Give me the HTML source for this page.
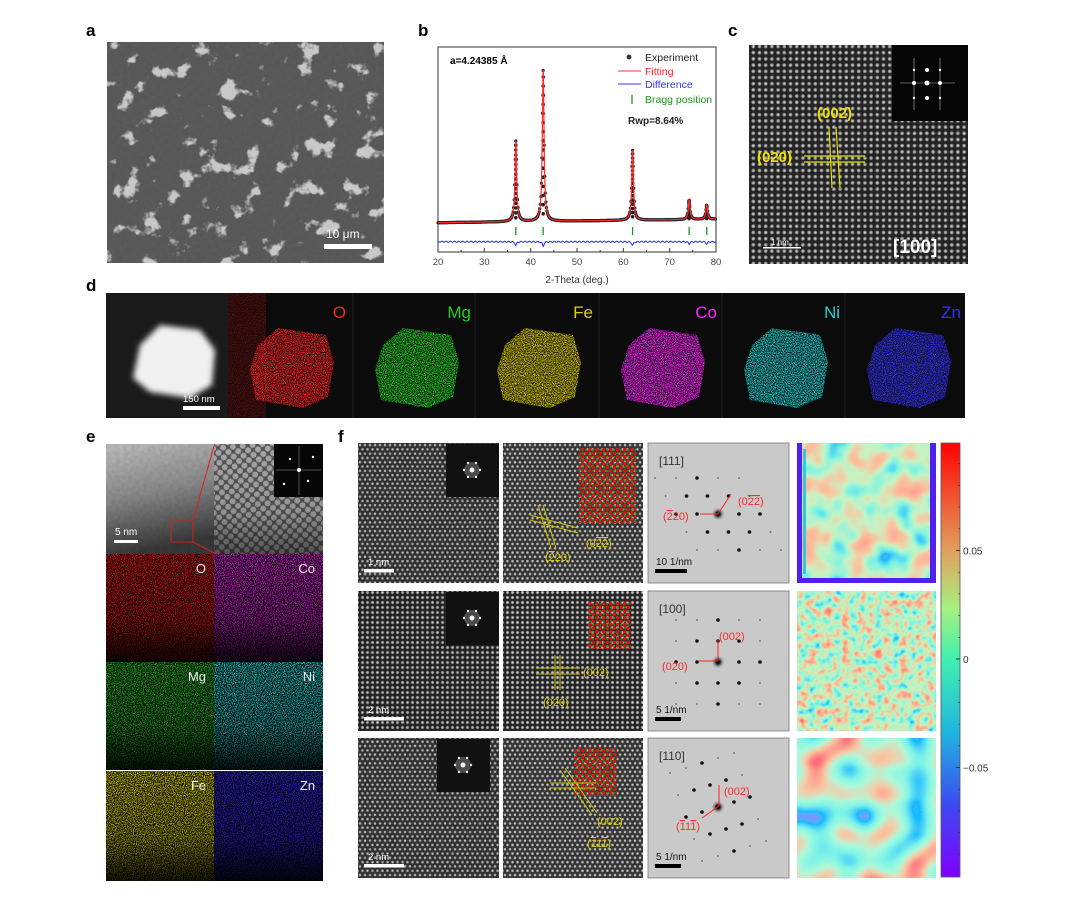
<!DOCTYPE html>
<html><head><meta charset="utf-8"><style>
html,body{margin:0;padding:0;background:#fff;}
svg{display:block;font-family:"Liberation Sans",Arial,sans-serif;}
.lbl{font-weight:bold;font-size:17px;fill:#000;}
</style></head><body>
<svg id="fig" width="1080" height="917" viewBox="0 0 1080 917" xmlns="http://www.w3.org/2000/svg">
<defs>
  <filter id="speck" x="0" y="0" width="100%" height="100%">
    <feTurbulence type="fractalNoise" baseFrequency="1.1" numOctaves="1" seed="3" result="n"/>
    <feColorMatrix in="n" type="matrix" values="0 0 0 0 0  0 0 0 0 0  0 0 0 0 0  4 0 0 0 -1.6" result="a"/>
    <feComposite in="SourceGraphic" in2="a" operator="in"/>
  </filter>
  <filter id="speck2" x="0" y="0" width="100%" height="100%">
    <feTurbulence type="fractalNoise" baseFrequency="1.1" numOctaves="1" seed="7" result="n"/>
    <feColorMatrix in="n" type="matrix" values="0 0 0 0 0  0 0 0 0 0  0 0 0 0 0  4 0 0 0 -1.55" result="a"/>
    <feComposite in="SourceGraphic" in2="a" operator="in"/>
  </filter>
  <filter id="clusters" x="0" y="0" width="100%" height="100%">
    <feTurbulence type="fractalNoise" baseFrequency="0.05" numOctaves="4" seed="11" result="n"/>
    <feColorMatrix in="n" type="matrix" values="0 0 0 0 0  0 0 0 0 0  0 0 0 0 0  9 0 0 0 -5.5" result="a"/>
    <feComposite in="SourceGraphic" in2="a" operator="in"/>
  </filter>
  <filter id="grain" x="0" y="0" width="100%" height="100%">
    <feTurbulence type="fractalNoise" baseFrequency="0.25" numOctaves="2" seed="5" result="n"/>
    <feColorMatrix in="n" type="matrix" values="0 0 0 0 0  0 0 0 0 0  0 0 0 0 0  0 0 0 0.9 0" result="a"/>
    <feComposite in="SourceGraphic" in2="a" operator="in"/>
  </filter>
  <filter id="rainbowA" x="0" y="0" width="100%" height="100%">
    <feTurbulence type="fractalNoise" baseFrequency="0.04" numOctaves="2" seed="2" result="n"/>
    <feColorMatrix in="n" type="matrix" values="1 0 0 0 0  1 0 0 0 0  1 0 0 0 0  0 0 0 0 1"/>
    <feComponentTransfer>
      <feFuncR type="table" tableValues="0.5 0 0.2 0.55 0.95 1 1"/>
      <feFuncG type="table" tableValues="0 0.5 0.9 0.9 0.55 0.4 0.1"/>
      <feFuncB type="table" tableValues="1 1 0.75 0.55 0.35 0.3 0.1"/>
    </feComponentTransfer>
  </filter>
  <filter id="rainbowB" x="0" y="0" width="100%" height="100%">
    <feTurbulence type="fractalNoise" baseFrequency="0.12" numOctaves="2" seed="4" result="n"/>
    <feColorMatrix in="n" type="matrix" values="1 0 0 0 0  1 0 0 0 0  1 0 0 0 0  0 0 0 0 1"/>
    <feComponentTransfer>
      <feFuncR type="table" tableValues="0.5 0 0.2 0.55 0.95 1 1"/>
      <feFuncG type="table" tableValues="0 0.5 0.9 0.9 0.5 0.2 0.1"/>
      <feFuncB type="table" tableValues="1 1 0.75 0.5 0.3 0.2 0.1"/>
    </feComponentTransfer>
  </filter>
  <filter id="rainbowC" x="0" y="0" width="100%" height="100%">
    <feTurbulence type="fractalNoise" baseFrequency="0.03" numOctaves="1" seed="9" result="n"/>
    <feColorMatrix in="n" type="matrix" values="1.6 0 0 0 -0.3  1.6 0 0 0 -0.3  1.6 0 0 0 -0.3  0 0 0 0 1"/>
    <feComponentTransfer>
      <feFuncR type="table" tableValues="0.5 0 0.2 0.4 0.95 1 1"/>
      <feFuncG type="table" tableValues="0 0.5 0.9 0.95 0.55 0.15 0.05"/>
      <feFuncB type="table" tableValues="1 1 0.8 0.7 0.35 0.2 0.1"/>
    </feComponentTransfer>
  </filter>
  <filter id="blur3"><feGaussianBlur stdDeviation="3"/></filter>
  <radialGradient id="dot"><stop offset="0" stop-color="#fff"/><stop offset="0.6" stop-color="#c4c4c4" stop-opacity="0.75"/><stop offset="1" stop-color="#000" stop-opacity="0"/></radialGradient>
  <pattern id="latSq" width="5" height="5" patternUnits="userSpaceOnUse"><rect width="5" height="5" fill="#2a2a2a"/><circle cx="2.5" cy="2.5" r="2.2" fill="url(#dot)"/></pattern>
  <pattern id="latSq6" width="6.2" height="6.2" patternUnits="userSpaceOnUse"><rect width="6.2" height="6.2" fill="#2a2a2a"/><circle cx="3.1" cy="3.1" r="2.6" fill="url(#dot)"/></pattern>
  <pattern id="latHex" width="5" height="8.6" patternUnits="userSpaceOnUse"><rect width="5" height="8.6" fill="#3a3a3a"/><circle cx="2.5" cy="2.15" r="2" fill="url(#dot)"/><circle cx="0" cy="6.45" r="2" fill="url(#dot)"/><circle cx="5" cy="6.45" r="2" fill="url(#dot)"/></pattern>
  <pattern id="latDiag" width="7" height="7" patternUnits="userSpaceOnUse" patternTransform="rotate(40)"><rect width="7" height="7" fill="#555"/><circle cx="3.5" cy="3.5" r="3" fill="#bbb" opacity="0.8"/></pattern>
  <pattern id="atomsA" width="7" height="7" patternUnits="userSpaceOnUse"><circle cx="1.8" cy="1.8" r="1.8" fill="#e01010"/><circle cx="5.3" cy="5.3" r="1.8" fill="#e01010"/><circle cx="5.3" cy="1.8" r="1.1" fill="#1a9a1a"/><circle cx="1.8" cy="5.3" r="1.1" fill="#1a9a1a"/></pattern>
  <linearGradient id="fadeDown" x1="0" y1="0" x2="0" y2="1"><stop offset="0" stop-color="#000" stop-opacity="0"/><stop offset="0.6" stop-color="#000" stop-opacity="0.2"/><stop offset="1" stop-color="#000" stop-opacity="0.85"/></linearGradient>
  <linearGradient id="eGray" x1="0" y1="0" x2="0.2" y2="1"><stop offset="0" stop-color="#c4c4c4"/><stop offset="0.5" stop-color="#8e8e8e"/><stop offset="1" stop-color="#3a3a3a"/></linearGradient>
  <linearGradient id="cbar" x1="0" y1="1" x2="0" y2="0">
    <stop offset="0" stop-color="#8000ff"/><stop offset="0.17" stop-color="#3b4cf0"/><stop offset="0.33" stop-color="#20b4e0"/><stop offset="0.5" stop-color="#40f0b0"/><stop offset="0.62" stop-color="#a8f080"/><stop offset="0.75" stop-color="#e0a060"/><stop offset="0.88" stop-color="#f05030"/><stop offset="1" stop-color="#ff0000"/>
  </linearGradient>
  <radialGradient id="spotC"><stop offset="0" stop-color="#000"/><stop offset="0.3" stop-color="#222"/><stop offset="1" stop-color="#c8c8c8" stop-opacity="0"/></radialGradient>
  <clipPath id="clipA"><rect x="107" y="42" width="277" height="221"/></clipPath>
</defs>

<text class="lbl" x="86" y="36">a</text>
<text class="lbl" x="418" y="36">b</text>
<text class="lbl" x="728" y="36">c</text>
<text class="lbl" x="86" y="291">d</text>
<text class="lbl" x="86" y="442">e</text>
<text class="lbl" x="338" y="442">f</text>

<g clip-path="url(#clipA)">
  <rect x="107" y="42" width="277" height="221" fill="#555"/>
  <rect x="107" y="42" width="277" height="221" fill="#666" filter="url(#grain)" opacity="0.5"/>
  <rect x="107" y="42" width="277" height="221" fill="#c8c8c8" filter="url(#clusters)"/>
  <rect x="324" y="244" width="48" height="5" fill="#fff"/>
  <text x="326" y="238" font-size="12" fill="#fff">10 μm</text>
</g>

<g id="xrd">
  <rect x="438" y="47" width="278" height="205" fill="#fff" stroke="#333" stroke-width="1"/>
  <g id="xrdMarks"></g>
  <text x="450" y="64" font-size="10" font-weight="bold">a=4.24385 Å</text>
  <g>
    <circle cx="629" cy="57" r="2.4" fill="#333"/>
    <text x="645" y="61" font-size="10.5" fill="#222">Experiment</text>
    <line x1="618" y1="71" x2="641" y2="71" stroke="#f33"/>
    <text x="645" y="75" font-size="10.5" fill="#f22">Fitting</text>
    <line x1="618" y1="84" x2="641" y2="84" stroke="#33f"/>
    <text x="645" y="88" font-size="10.5" fill="#33f">Difference</text>
    <line x1="632" y1="95" x2="632" y2="104" stroke="#1a9a1a" stroke-width="1.3"/>
    <text x="645" y="103" font-size="10.5" fill="#1a9a1a">Bragg position</text>
    <text x="628" y="124" font-size="10" font-weight="bold" fill="#222">Rwp=8.64%</text>
  </g>
  <text x="577" y="283" font-size="10" text-anchor="middle" fill="#333">2-Theta (deg.)</text>
</g>

<g>
  <rect x="749" y="45" width="219" height="219" fill="url(#latSq6)"/>
  <rect x="749" y="45" width="219" height="219" fill="#000" filter="url(#grain)" opacity="0.3"/>
  <rect x="892" y="45" width="76" height="76" fill="#050505"/>
  <g fill="#fff" stroke="none">
    <circle cx="927" cy="70" r="2"/><circle cx="914" cy="83" r="2"/><circle cx="927" cy="83" r="2.4"/><circle cx="940" cy="83" r="2"/><circle cx="927" cy="98" r="2"/>
    <circle cx="914" cy="70" r="1.2"/><circle cx="940" cy="70" r="1.2"/><circle cx="914" cy="98" r="1.2"/><circle cx="940" cy="98" r="1.2"/>
  </g>
  <g stroke="#fff" stroke-width="0.6" opacity="0.7"><line x1="914" y1="58" x2="914" y2="110"/><line x1="940" y1="58" x2="940" y2="110"/><line x1="900" y1="83" x2="955" y2="83"/></g>
  <g stroke="#e8e000" stroke-width="1.2"><line x1="829" y1="127" x2="832" y2="188"/><line x1="836" y1="127" x2="840" y2="188"/><line x1="804" y1="156" x2="865" y2="156"/><line x1="804" y1="162" x2="865" y2="162"/></g>
  <text x="817" y="118" font-size="15" font-weight="bold" fill="#f0e000">(002)</text>
  <text x="757" y="162" font-size="15" font-weight="bold" fill="#f0e000">(020)</text>
  <rect x="763" y="247" width="38" height="1.5" fill="#fff"/>
  <text x="771" y="245" font-size="8" fill="#fff">1 nm</text>
  <text x="893" y="253" font-size="19" font-weight="bold" fill="#fff">[100]</text>
</g>

<g id="panelD">
  <rect x="106" y="293" width="859" height="125" fill="#0b0b0b"/>
  <rect x="106" y="293" width="122" height="125" fill="#1a1a1a"/>
  <path d="M140 345 L160 325 L200 330 L215 350 L212 385 L190 398 L150 392 L133 378 Z" fill="#f0f0f0" filter="url(#blur3)"/>
  <rect x="183" y="406" width="37" height="4" fill="#fff"/>
  <text x="183" y="402" font-size="9.5" fill="#fff">150 nm</text>
  <rect x="228" y="293" width="38" height="125" fill="#801010" filter="url(#speck2)" opacity="0.7"/>
</g>

<g id="panelE">
  <rect x="106" y="444" width="108" height="110" fill="url(#eGray)"/>
  <rect x="106" y="444" width="108" height="110" fill="#000" filter="url(#grain)" opacity="0.15"/>
  <rect x="214" y="444" width="109" height="110" fill="url(#latDiag)"/>
  <rect x="214" y="444" width="109" height="110" fill="url(#fadeDown)" opacity="0.6"/>
  <rect x="274" y="444" width="49" height="53" fill="#070707"/>
  <g fill="#fff"><circle cx="299" cy="470" r="2"/><circle cx="290" cy="459" r="1.2"/><circle cx="308" cy="481" r="1.2"/><circle cx="284" cy="484" r="1.2"/><circle cx="313" cy="457" r="1.2"/></g>
  <g stroke="#fff" stroke-width="0.5" opacity="0.6"><line x1="299" y1="446" x2="299" y2="495"/><line x1="276" y1="470" x2="321" y2="470"/></g>
  <rect x="171" y="520" width="22" height="22" fill="none" stroke="#d02020" stroke-width="1"/>
  <g stroke="#e02020" stroke-width="1" fill="none"><line x1="193" y1="520" x2="214" y2="446"/><line x1="193" y1="542" x2="214" y2="553"/></g>
  <text x="115" y="535" font-size="10" fill="#fff">5 nm</text>
  <rect x="114" y="540" width="24" height="3" fill="#fff"/>
</g>

<g id="panelF"></g>

<g>
  <rect x="941" y="443" width="19" height="434" fill="url(#cbar)" stroke="#555" stroke-width="0.8"/>
  <g id="cbTicks"></g>
</g>
</svg>
<script>
// ---------------- XRD data ----------------
const peakPos = [36.8, 42.7, 62.0, 74.2, 78.0];
const peakInt = [53, 100, 46, 13, 9.5];
const braggPos = [36.8, 42.7, 62.0, 74.2, 78.0];
const xTicks = [20, 30, 40, 50, 60, 70, 80];
const baseStartEnd = [1.5, 3.8];
const diffLevel = [-11];
const diffDip = [2.5, 3, 2.5, 1.5, 1.5];

const NS = 'http://www.w3.org/2000/svg';
function mk(tag, attrs, parent){const e=document.createElementNS(NS,tag);for(const k in attrs)e.setAttribute(k,attrs[k]);parent.appendChild(e);return e;}
const X0=438,X1=716,xmin=20,xmax=80;
function xs(v){return X0+(v-xmin)/(xmax-xmin)*(X1-X0);}
function ys(v){return 225-v*1.52;}
function baseAt(x){return baseStartEnd[0]+(baseStartEnd[1]-baseStartEnd[0])*(x-xmin)/(xmax-xmin);}
function prof(x){let s=baseAt(x);for(let i=0;i<peakPos.length;i++){const d=(x-peakPos[i])/0.22;s+=peakInt[i]/(1+d*d);}return s;}
const gm=document.getElementById('xrdMarks');
for(let x=xmin;x<=xmax;x+=0.12){
  const c=mk('circle',{cx:xs(x).toFixed(1),cy:ys(prof(x)).toFixed(1),r:1.6,fill:'#222'},gm);
  
  
}
for(let i=0;i<peakPos.length;i++){
  for(let f=0.05;f<1;f+=0.06){
    const c=mk('circle',{cx:xs(peakPos[i]).toFixed(1),cy:ys(baseAt(peakPos[i])+peakInt[i]*f).toFixed(1),r:1.8,fill:'#222'},gm);
    
    
  }
}
let d='';for(let x=xmin;x<=xmax;x+=0.04){d+=(d?'L':'M')+xs(x).toFixed(2)+' '+ys(prof(x)).toFixed(2);}
const fit=mk('path',{d:d,fill:'none',stroke:'#ff2a2a','stroke-width':1.2},gm);


let dd='';for(let x=xmin;x<=xmax;x+=0.1){let v=diffLevel[0];for(let i=0;i<peakPos.length;i++){const q=(x-peakPos[i])/0.2;v-=diffDip[i]/(1+q*q);}v+=0.4*Math.sin(x*7);dd+=(dd?'L':'M')+xs(x).toFixed(2)+' '+ys(v).toFixed(2);}
const df=mk('path',{d:dd,fill:'none',stroke:'#2a2aff','stroke-width':1},gm);


braggPos.forEach(p=>{const l=mk('line',{x1:xs(p),x2:xs(p),y1:227,y2:235,stroke:'#1a9a1a','stroke-width':1.3},gm);

});
xTicks.forEach(t=>{mk('line',{x1:xs(t),x2:xs(t),y1:252,y2:248,stroke:'#333'},gm);
  const tx=mk('text',{x:xs(t),y:265,'font-size':9.5,'text-anchor':'middle',fill:'#444'},gm);tx.textContent=t;
  
  
  if(t<80)mk('line',{x1:xs(t+5),x2:xs(t+5),y1:252,y2:250,stroke:'#333'},gm);});

// ---------------- Panel d maps ----------------
const dMaps=[['O','#ff2020',228],['Mg','#20d020',353],['Fe','#e0d000',475],['Co','#ff20ff',599],['Ni','#20d0d0',722],['Zn','#3030ff',845]];
const gd=document.getElementById('panelD');
dMaps.forEach(m=>{const x=m[2],w=(m[0]==='Zn'?120:122);
  if(x>228){mk('line',{x1:x,x2:x,y1:293,y2:418,stroke:'#222'},gd);}
  const p=mk('path',{d:`M${x+30} 345 L${x+50} 328 L${x+98} 335 L${x+106} 362 L${x+100} 397 L${x+75} 408 L${x+28} 400 L${x+22} 370 Z`,fill:m[1],filter:'url(#speck2)'},gd);
  
  
  const t=mk('text',{x:x+w-4,y:318,'font-size':17,'text-anchor':'end',fill:m[1]},gd);t.textContent=m[0];
  
  
});

// ---------------- Panel e maps ----------------
const eMaps=[['O','#e01818',106,554],['Co','#d020d0',214,554],['Mg','#20b020',106,662],['Ni','#20c8c8',214,662],['Fe','#d8d000',106,771],['Zn','#3020d0',214,771]];
const ge=document.getElementById('panelE');
eMaps.forEach(m=>{const w=m[2]===106?108:109,h=m[3]===771?110:108;
  mk('rect',{x:m[2],y:m[3],width:w,height:h,fill:'#000'},ge);
  const r=mk('rect',{x:m[2],y:m[3],width:w,height:h,fill:m[1],filter:'url(#speck)'},ge);
  
  
  mk('rect',{x:m[2],y:m[3],width:w,height:h,fill:'url(#fadeDown)'},ge);
  const t=mk('text',{x:m[2]+w-8,y:m[3]+19,'font-size':13,'text-anchor':'end',fill:'#eee'},ge);t.textContent=m[0];
  
  
});

// ---------------- Panel f ----------------
const gf=document.getElementById('panelF');
const rowsY=[443,591,738];
const rowH=140;
const latPat=['url(#latHex)','url(#latSq)','url(#latHex)'];
const scaleTxt=['1 nm','2 nm','2 nm'];
const zoneTxt=['[111]','[100]','[110]'];
const saedScale=['10 1/nm','5 1/nm','5 1/nm'];
const strainF=['url(#rainbowA)','url(#rainbowB)','url(#rainbowC)'];
rowsY.forEach((y,i)=>{
  const a=mk('rect',{x:358,y:y,width:141,height:rowH,fill:latPat[i]},gf);
  
  
  mk('rect',{x:358,y:y,width:141,height:rowH,fill:'#000',filter:'url(#grain)',opacity:0.35},gf);
  const fx=i===2?437:446;
  mk('rect',{x:fx,y:y+1,width:53,height:53,fill:'#111'},gf);
  [[0,0,2.5],[8,0,1.2],[-8,0,1.2],[4,7,1.2],[-4,7,1.2],[4,-7,1.2],[-4,-7,1.2]].forEach(s=>mk('circle',{cx:fx+26+s[0],cy:y+27+s[1],r:s[2],fill:'#eee'},gf));
  mk('circle',{cx:fx+26,cy:y+27,r:8,fill:'#fff',opacity:0.25},gf);
  mk('rect',{x:364,y:y+rowH-14,width:i===0?30:40,height:3.5,fill:'#fff'},gf);
  const st=mk('text',{x:368,y:y+rowH-18,'font-size':9.5,fill:'#fff'},gf);st.textContent=scaleTxt[i];
  const b=mk('rect',{x:503,y:y,width:140,height:rowH,fill:latPat[i]},gf);
  
  
  mk('rect',{x:503,y:y,width:140,height:rowH,fill:'#000',filter:'url(#grain)',opacity:0.2},gf);
  const am=mk('rect',{x:i===0?579:(i===1?588:574),y:y+(i===0?5:10),width:i===0?57:43,height:i===0?75:48,fill:'url(#atomsA)'},gf);
  
  
  const c=mk('rect',{x:648,y:y,width:141,height:rowH,fill:'#c9c9c9',stroke:'#777','stroke-width':0.8},gf);
  
  
  const cx=718,cy=y+(i===0?71:(i===1?71:69));
  for(let a1=-2;a1<=2;a1++)for(let b1=-2;b1<=2;b1++){
    let px,py;
    if(i===0){px=cx+a1*21+b1*10.5;py=cy+b1*18;}else if(i===1){px=cx+a1*21;py=cy+b1*21;}else{px=cx+a1*16+b1*8;py=cy+b1*22-a1*5;}
    if(px<652||px>785||py<y+4||py>y+rowH-4)continue;
    const big=(Math.abs(a1)+Math.abs(b1))<=2;
    mk('circle',{cx:px,cy:py,r:big?1.8:1,fill:big?'#111':'#777'},gf);
  }
  mk('circle',{cx:cx,cy:cy,r:7,fill:'url(#spotC)'},gf);
  const zt=mk('text',{x:659,y:y+22,'font-size':12,fill:'#333'},gf);zt.textContent=zoneTxt[i];
  
  
  mk('rect',{x:655,y:y+rowH-14,width:i===0?32:26,height:4,fill:'#000'},gf);
  const sc=mk('text',{x:656,y:y+rowH-18,'font-size':10,fill:'#111'},gf);sc.textContent=saedScale[i];
  const s=mk('rect',{x:797,y:y,width:139,height:rowH,fill:'#fff',filter:strainF[i]},gf);
  
  
});
// strain map edge artifacts (row 1)
mk('rect',{x:797,y:443,width:5,height:140,fill:'#5020f0'},gf);
mk('rect',{x:930,y:443,width:6,height:140,fill:'#5020f0'},gf);
mk('rect',{x:797,y:578,width:139,height:5,fill:'#5020f0'},gf);
mk('rect',{x:803,y:449,width:3,height:125,fill:'#30c8e0'},gf);

function txt(x,y,parts,fill,size,name){
  const e=mk('text',{x:x,y:y,'font-size':size,fill:fill},gf);
  parts.forEach(p=>{const t=mk('tspan',{},e);t.textContent=p[0];if(p[1])t.setAttribute('text-decoration','overline');});
  
  
  return e;
}
txt(738,505,[['(0'],['2',1],['2',1],[')']],'#ff2a2a',11,'saed-label-022');
txt(663,520,[['('],['2',1],['20)']],'#ff2a2a',11,'saed-label-220');
txt(719,640,[['(002)']],'#ff2a2a',11,'saed-label-002');
txt(662,670,[['(020)']],'#ff2a2a',11,'saed-label-020');
txt(724,795,[['(002)']],'#ff2a2a',11,'saed-label-002b');
txt(676,830,[['('],['1',1],['1'],['1',1],[')']],'#ff2a2a',11,'saed-label-111');
const ar=[[718,514,731,494],[718,514,700,514],[718,661,718,640],[718,661,698,661],[719,806,719,785],[719,806,702,818]];
ar.forEach(a=>{mk('line',{x1:a[0],y1:a[1],x2:a[2],y2:a[3],stroke:'#ff2020','stroke-width':1},gf);});
const yl=[[538,505,551,548],[543,505,556,548],[530,520,578,533],[530,515,578,528],[555,655,555,690],[560,655,560,690],[536,668,580,668],[536,674,580,674],[560,770,592,815],[565,768,597,813],[550,783,596,783],[550,788,596,788]];
yl.forEach(a=>mk('line',{x1:a[0],y1:a[1],x2:a[2],y2:a[3],stroke:'#c8c000','stroke-width':1},gf));
txt(586,547,[['(0'],['2',1],['2',1],[')']],'#d8cc00',11,'lattice-label-022');
txt(545,561,[['('],['2',1],['20)']],'#d8cc00',11,'lattice-label-220');
txt(583,676,[['(002)']],'#d8cc00',11,'lattice-label-002');
txt(543,706,[['(020)']],'#d8cc00',11,'lattice-label-020');
txt(597,825,[['(002)']],'#d8cc00',11,'lattice-label-002b');
txt(587,847,[['('],['1',1],['1'],['1',1],[')']],'#d8cc00',11,'lattice-label-111');

// ---------------- Colorbar ticks ----------------
const cbTickVals=[0.05,0,-0.05];
const cbTickLbl=['0.05','0','\u22120.05'];
const gc=document.getElementById('cbTicks');
function cy2(v){return 659-v*2170;}
for(let k=-9;k<=9;k++){const v=k/100;mk('line',{x1:958,x2:960,y1:cy2(v),y2:cy2(v),stroke:'#333','stroke-width':0.6},gc);}
cbTickVals.forEach((v,i)=>{mk('line',{x1:956,x2:960,y1:cy2(v),y2:cy2(v),stroke:'#333'},gc);
  const t=mk('text',{x:963,y:cy2(v)+4,'font-size':10,fill:'#333'},gc);t.textContent=cbTickLbl[i];
  
  });
</script>
</body></html>
